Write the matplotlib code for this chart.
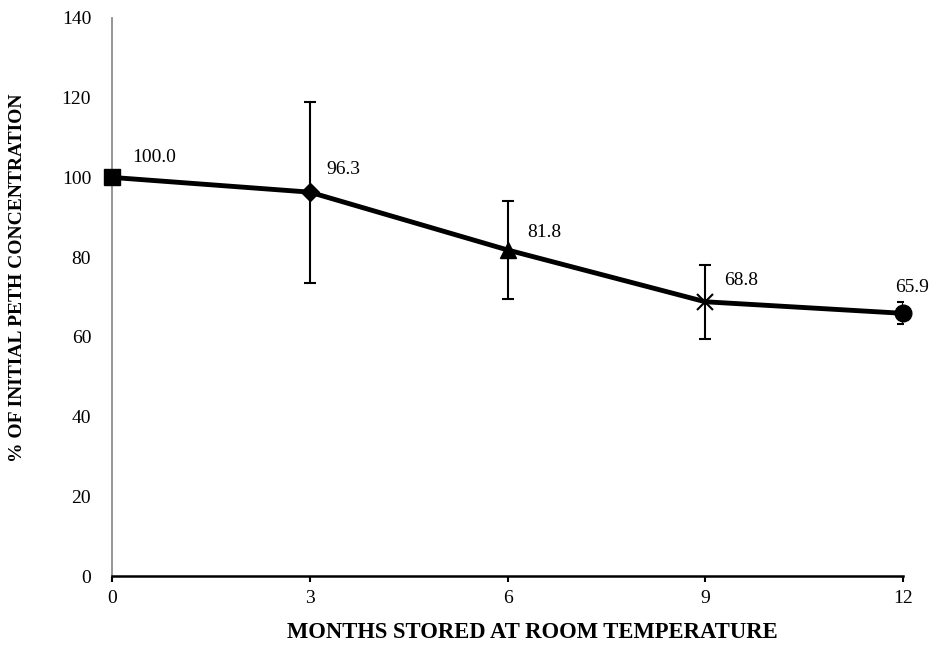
import matplotlib
matplotlib.use("Agg")
import matplotlib.pyplot as plt

months = [0, 3, 6, 9, 12]
values = [100.0, 96.3, 81.8, 68.8, 65.9]
errors = [0.0, 22.7, 12.3, 9.3, 2.8]
markers = ["s", "D", "^", "x", "o"]
labels = ["100.0", "96.3", "81.8", "68.8", "65.9"]
xticks = [0, 3, 6, 9, 12]
yticks = [0, 20, 40, 60, 80, 100, 120, 140]

plt.rcParams['font.family'] = ['Liberation Serif', 'DejaVu Serif']

fig = plt.figure(figsize=(9.39, 6.51), dpi=100)
ax = fig.add_axes([0.1193, 0.1152, 0.8424, 0.8572])

ax.plot(months, values, color="black", lw=3.5, zorder=2, solid_capstyle="butt")
sizes = {"s": 12, "D": 9, "^": 11, "x": 11, "o": 12}
for m, v, e, mk in zip(months, values, errors, markers):
    if e > 0:
        ax.errorbar(m, v, yerr=e, fmt="none", ecolor="black", elinewidth=1.5,
                    capsize=4.6, capthick=1.5, zorder=3)
    if mk == "x":
        ax.plot(m, v, marker=mk, color="black", ms=sizes[mk], mew=1.5, zorder=4, clip_on=False)
    else:
        ax.plot(m, v, marker=mk, color="black", ms=sizes[mk], zorder=4, clip_on=False)

label_dx = [0.30, 0.25, 0.30, 0.29, -0.12]
label_dy = [4.9, 5.6, 4.5, 5.3, 6.4]
for m, v, lab, dx, dy in zip(months, values, labels, label_dx, label_dy):
    ax.text(m + dx, v + dy, lab, fontsize=14, ha="left", va="center", clip_on=False)

ax.set_xlim(0, 12)
ax.set_ylim(0, 140)
ax.set_xticks(xticks)
ax.set_yticks(yticks)
ax.tick_params(axis="x", direction="out", length=4, width=1.5, labelsize=14, pad=6)
ax.tick_params(axis="y", length=0, labelsize=14, pad=15)

for s in ["top", "right"]:
    ax.spines[s].set_visible(False)
ax.spines["left"].set_color("#8c8c8c")
ax.spines["left"].set_linewidth(1.3)
ax.spines["bottom"].set_color("black")
ax.spines["bottom"].set_linewidth(1.8)

ax.set_xlabel("MONTHS STORED AT ROOM TEMPERATURE", fontsize=16.3, fontweight="bold", va="center")
ax.set_ylabel("% OF INITIAL PETH CONCENTRATION", fontsize=14, fontweight="bold", va="center")
ax.xaxis.set_label_coords(0.531, -0.102)
ax.yaxis.set_label_coords(-0.119, 0.534)

fig.savefig("out.png", dpi=100)
